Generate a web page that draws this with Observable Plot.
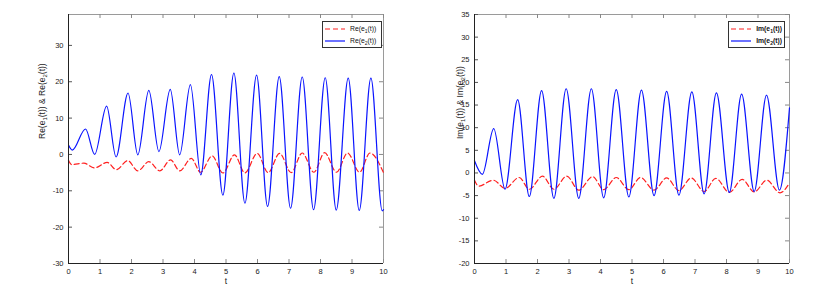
<!DOCTYPE html>
<html>
<head>
<meta charset="utf-8">
<script src="https://cdn.jsdelivr.net/npm/d3@7"></script>
<script src="https://cdn.jsdelivr.net/npm/@observablehq/plot@0.6"></script>
<style>
  html, body { margin: 0; padding: 0; background: #fff; }
  #wrap { position: relative; width: 837px; height: 294px; overflow: hidden; font-family: "Liberation Sans", Arial, sans-serif; }
  .panel { position: absolute; top: 0; }
  .legend { position: absolute; border: 1px solid #333; background: #fff; font-size: 6.8px; color: #111; box-sizing: border-box; padding: 1px 2px; }
  .legend .row { display: flex; align-items: center; height: 12px; }
  .legend svg { display: block; margin-right: 5px; }
  .legend sub { font-size: 5px; vertical-align: -1.5px; }
</style>
</head>
<body>
<div id="wrap"></div>
<script>
// ---------- data (key points) ----------
const xTicks = [0, 1, 2, 3, 4, 5, 6, 7, 8, 9, 10];
const leftYTicks = [-30, -20, -10, 0, 10, 20, 30];
const rightYTicks = [-20, -15, -10, -5, 0, 5, 10, 15, 20, 25, 30, 35];

// Left panel: Re(e2(t)) (blue, solid)
const reE2_t = [0, 0.12, 0.54, 0.83, 1.21, 1.51, 1.89, 2.2, 2.55, 2.87, 3.23, 3.53, 3.87, 4.2, 4.54, 4.9, 5.25, 5.6, 5.97, 6.32, 6.69, 7.05, 7.42, 7.78, 8.15, 8.5, 8.88, 9.23, 9.6, 9.96, 10];
const reE2_v = [2.6, 1.2, 7.0, 0.0, 13.3, -0.7, 16.9, -0.1, 17.6, 0.8, 17.9, -0.1, 19.2, -5.6, 22.0, -11.2, 22.4, -13.4, 21.8, -14.3, 21.4, -14.8, 21.3, -15.2, 21.1, -15.3, 21.0, -15.4, 21.0, -15.5, -15.2];
// Left panel: Re(e1(t)) (red, dashed)
const reE1_t = [0, 0.1, 0.49, 0.82, 1.23, 1.52, 1.88, 2.2, 2.55, 2.9, 3.24, 3.53, 3.9, 4.19, 4.56, 4.9, 5.27, 5.6, 5.99, 6.34, 6.7, 7.07, 7.42, 7.79, 8.13, 8.51, 8.86, 9.24, 9.57, 10];
const reE1_v = [-1.6, -2.8, -2.4, -3.7, -2.2, -4.2, -1.7, -4.5, -2.0, -4.5, -1.5, -4.5, -1.1, -4.9, -0.4, -5.1, -0.1, -5.1, 0.3, -5.0, 0.3, -5.0, 0.4, -4.9, 0.5, -4.9, 0.4, -4.9, 0.4, -5.0];

// Right panel: Im(e2(t)) (blue, solid)
const imE2_t = [0, 0.25, 0.61, 0.97, 1.37, 1.74, 2.13, 2.52, 2.91, 3.31, 3.71, 4.1, 4.5, 4.9, 5.3, 5.7, 6.1, 6.49, 6.9, 7.29, 7.68, 8.09, 8.48, 8.88, 9.27, 9.68, 10];
const imE2_v = [2.7, -0.3, 9.8, -3.6, 16.2, -5.2, 18.2, -5.6, 18.6, -5.6, 18.6, -5.5, 18.4, -5.3, 18.3, -5.0, 18.0, -4.9, 17.9, -4.6, 17.7, -4.3, 17.4, -4.1, 17.2, -3.8, 14.4];
// Right panel: Im(e1(t)) (red, dashed)
const imE1_t = [0, 0.13, 0.6, 0.97, 1.42, 1.74, 2.16, 2.52, 2.93, 3.31, 3.75, 4.1, 4.5, 4.9, 5.27, 5.7, 6.1, 6.49, 6.88, 7.29, 7.66, 8.09, 8.5, 8.88, 9.28, 9.7, 10];
const imE1_v = [-1.6, -2.9, -1.6, -3.4, -1.0, -3.6, -0.7, -3.6, -0.7, -3.8, -0.8, -3.7, -1.0, -3.7, -1.0, -3.8, -1.1, -3.9, -1.1, -4.1, -1.2, -4.3, -1.4, -4.2, -1.6, -4.4, -2.2];

// ---------- drawing ----------
const toRows = (ts, vs) => ts.map((t, i) => ({t, v: vs[i]}));
const BLUE = "#0a14ff", RED = "#ff2020";
const HEIGHT = 294, MT = 14, MB = 31, TICK = 4;
const fmt = d => String(d);

function panel({width, marginLeft, marginRight, yDomain, yTicks, e1, e2, ylabelHTML}) {
  const [y0, y1] = yDomain;
  const ph = HEIGHT - MT - MB, pw = width - marginLeft - marginRight;
  const svg = Plot.plot({
    width, height: HEIGHT,
    marginLeft, marginRight, marginTop: MT, marginBottom: MB,
    style: {fontFamily: "'Liberation Sans', Arial, sans-serif", fontSize: "7.5px", color: "#222", background: "#fff", overflow: "visible"},
    x: {domain: [0, 10], ticks: xTicks, tickSize: 0, tickPadding: 5, label: null, tickFormat: fmt},
    y: {domain: yDomain, ticks: yTicks, tickSize: 0, tickPadding: 5, label: null, tickFormat: fmt},
    marks: [
      Plot.ruleY([y1], {stroke: "#9a9a9a", strokeWidth: 1}),
      Plot.ruleX([10], {stroke: "#9a9a9a", strokeWidth: 1}),
      Plot.tickX(xTicks, {x: d => d, stroke: "#888", insetTop: ph - TICK}),
      Plot.tickX(xTicks, {x: d => d, stroke: "#888", insetBottom: ph - TICK}),
      Plot.tickY(yTicks, {y: d => d, stroke: "#555", insetRight: pw - TICK}),
      Plot.tickY(yTicks, {y: d => d, stroke: "#888", insetLeft: pw - TICK}),
      Plot.lineY(e1, {x: "t", y: "v", stroke: RED, strokeWidth: 1.2, strokeDasharray: "5,3", curve: "monotone-x"}),
      Plot.lineY(e2, {x: "t", y: "v", stroke: BLUE, strokeWidth: 1.2, curve: "monotone-x"}),
      Plot.ruleX([0], {stroke: "#222", strokeWidth: 1}),
      Plot.ruleY([y0], {stroke: "#222", strokeWidth: 1}),
      Plot.text(["t"], {frameAnchor: "bottom", dy: 20, fontSize: 8.5, fill: "#222"}),
      Plot.text(["YLABEL"], {frameAnchor: "left", dx: -(marginLeft - 42), rotate: -90, fontSize: 8.5, fill: "#222"})
    ]
  });
  for (const t of svg.querySelectorAll("text")) {
    if (t.textContent === "YLABEL") t.innerHTML = ylabelHTML;
  }
  return svg;
}

const sub = n => `<tspan dy="2" font-size="6">${n}</tspan><tspan dy="-2">`;
const wrap = document.getElementById("wrap");

const left = document.createElement("div");
left.className = "panel"; left.style.left = "0px";
left.appendChild(panel({
  width: 418, marginLeft: 68, marginRight: 35,
  yDomain: [-30, 38.5], yTicks: leftYTicks,
  e1: toRows(reE1_t, reE1_v), e2: toRows(reE2_t, reE2_v),
  ylabelHTML: `Re(e${sub(1)}(t)) &amp; Re(e</tspan>${sub(2)}(t))</tspan>`
}));
wrap.appendChild(left);

const right = document.createElement("div");
right.className = "panel"; right.style.left = "418px";
right.appendChild(panel({
  width: 419, marginLeft: 56, marginRight: 48,
  yDomain: [-20, 35], yTicks: rightYTicks,
  e1: toRows(imE1_t, imE1_v), e2: toRows(imE2_t, imE2_v),
  ylabelHTML: `Im(e${sub(1)}(t)) &amp; Im(e</tspan>${sub(2)}(t))</tspan>`
}));
wrap.appendChild(right);

function legend(left, top, width, swatchW, names, bold) {
  const div = document.createElement("div");
  div.className = "legend";
  Object.assign(div.style, {left: left + "px", top: top + "px", width: width + "px", height: "27px", fontWeight: bold ? "bold" : "normal"});
  const styles = [{stroke: RED, dash: "5,3"}, {stroke: BLUE, dash: null}];
  names.forEach((html, i) => {
    const row = document.createElement("div");
    row.className = "row";
    const s = styles[i];
    row.innerHTML = `<svg width="${swatchW}" height="4"><line x1="0" y1="2" x2="${swatchW}" y2="2" stroke="${s.stroke}" stroke-width="1.2" ${s.dash ? `stroke-dasharray="${s.dash}"` : ""}/></svg><span>${html}</span>`;
    div.appendChild(row);
  });
  wrap.appendChild(div);
}
legend(322, 21, 60, 20, ["Re(e<sub>1</sub>(t))", "Re(e<sub>2</sub>(t))"], false);
legend(728, 21, 57, 22, ["Im(e<sub>1</sub>(t))", "Im(e<sub>2</sub>(t))"], true);
</script>
</body>
</html>
